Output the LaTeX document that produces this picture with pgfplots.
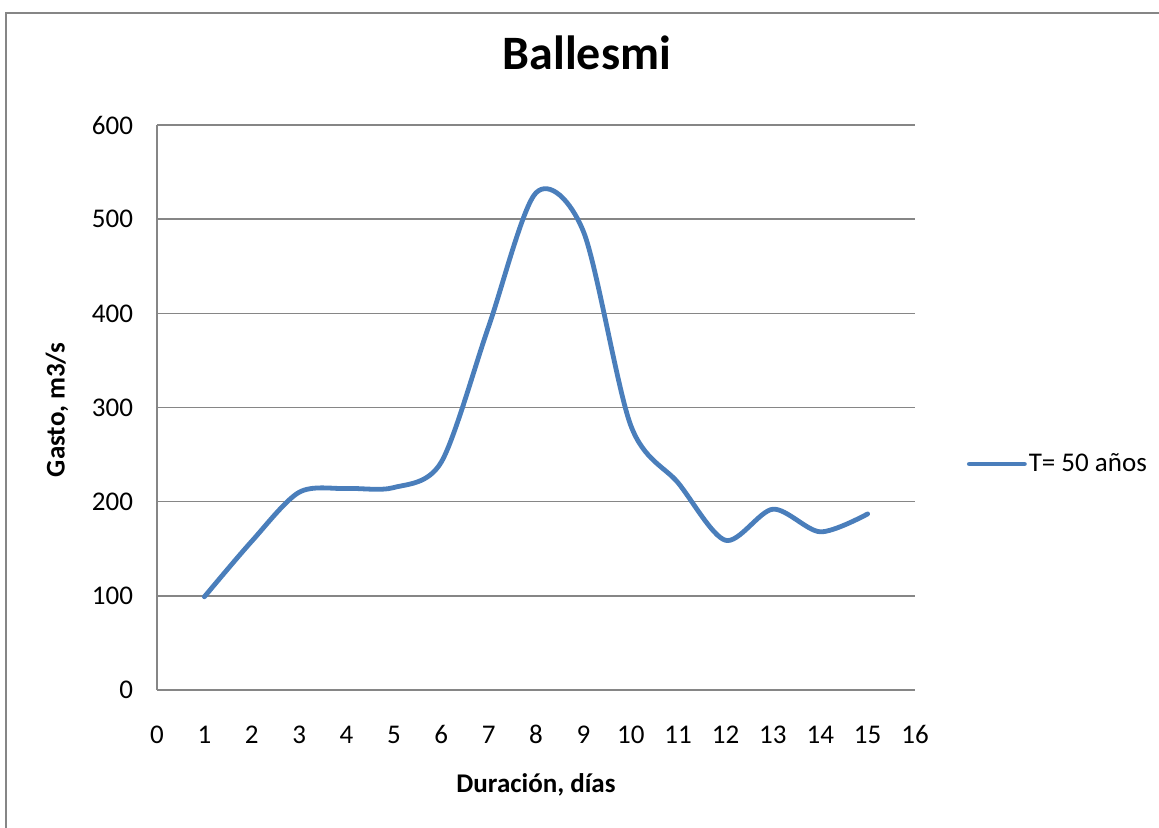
\documentclass[border=0pt]{standalone}
\usepackage{fontspec}
\setmainfont{Carlito}
\usepackage{pgfplots}
\pgfplotsset{compat=1.18}
\definecolor{gridgray}{HTML}{868686}
\definecolor{serieblue}{HTML}{4A7EBB}
\begin{document}
\begin{tikzpicture}
\useasboundingbox (0,0) rectangle (579.5pt,413.5pt);
% chart frame (only left and top edges fall inside the page)
\draw[gridgray, line width=1pt] (3pt,-10pt) -- (3pt,407pt) -- (600pt,407pt);
\begin{axis}[
  at={(78.5pt,68.5pt)}, anchor=south west,
  scale only axis, width=379pt, height=282.5pt,
  xmin=0, xmax=16, ymin=0, ymax=600,
  xtick={0,...,16}, ytick={0,100,...,600},
  axis lines*=left,
  axis line style={draw=gridgray, line width=0.8pt, -},
  ymajorgrids, grid style={draw=gridgray, line width=0.8pt},
  major tick length=0pt,
  tick label style={font=\fontsize{13.5}{16}\selectfont},
  /pgf/number format/assume math mode=true,
  xticklabel style={anchor=base, yshift=-26.5pt},
  yticklabel style={anchor=east, xshift=-8.5pt},
  title={Ballesmi},
  title style={at={(axis description cs:0.567,1.106)}, anchor=center,
    font=\fontsize{24}{28}\selectfont\bfseries},
  xlabel={Duración, días},
  xlabel style={at={(axis description cs:0.5,-0.168)}, anchor=center,
    font=\fontsize{13.5}{16}\selectfont\bfseries},
  ylabel={Gasto, m3/s},
  ylabel style={at={(axis description cs:-0.132,0.496)}, anchor=center,
    rotate=0, font=\fontsize{13.5}{16}\selectfont\bfseries},
  legend style={at={(1.068,0.4)}, anchor=west, draw=none, fill=none,
    inner sep=0pt, nodes={inner xsep=1pt}, font=\fontsize{13.5}{16}\selectfont},
  legend cell align=left,
  legend image code/.code={\draw[#1] (0pt,0pt) -- (27.5pt,0pt);},
  clip=false,
]
\addplot[serieblue, line width=2.4pt, smooth, tension=0.5,
  line cap=round, line join=round] coordinates {
  (1,99) (2,158) (3,210) (4,214) (5,215) (6,242) (7,386) (8,528)
  (9,487) (10,281) (11,220) (12,159) (13,192) (14,168) (15,187)
};
\addlegendentry{T= 50 años}
\end{axis}
\end{tikzpicture}
\end{document}
